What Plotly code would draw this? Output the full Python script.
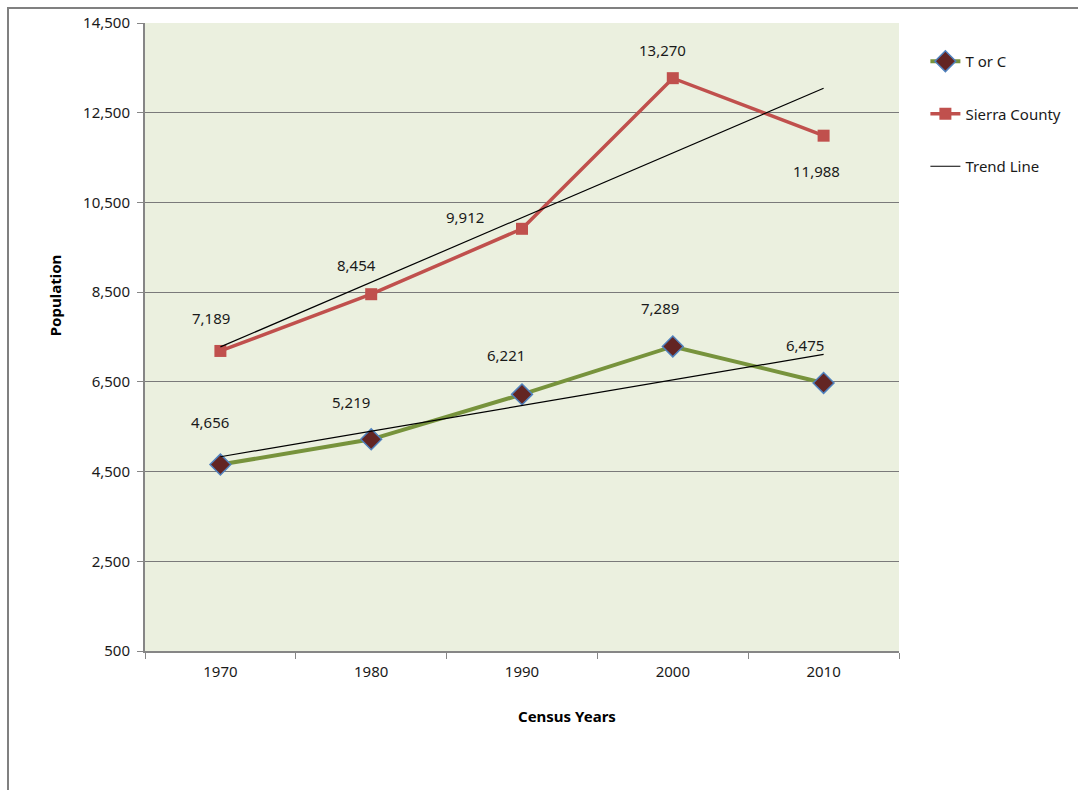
import plotly.graph_objects as go
import numpy as np

# Census data
years = ["1970", "1980", "1990", "2000", "2010"]
t_or_c = [4656, 5219, 6221, 7289, 6475]
sierra_county = [7189, 8454, 9912, 13270, 11988]

y_ticks = [500, 2500, 4500, 6500, 8500, 10500, 12500, 14500]

# label offsets in pixels (dx, dy) relative to each point
tc_label_offsets = [(-10, 43), (-20, 37), (-16, 39), (-13, 38), (-19, 38)]
sc_label_offsets = [(-9, 33), (-15, 29), (-57, 12), (-10, 28), (-7, -35)]

FONT = "Noto Sans, Lato, sans-serif"


def trend(values):
    x = np.arange(len(values))
    slope, intercept = np.polyfit(x, values, 1)
    return list(intercept + slope * x)


fig = go.Figure()

fig.add_trace(go.Scatter(
    x=years, y=t_or_c, name="T or C", mode="lines+markers",
    line=dict(color="#77933C", width=4),
    marker=dict(symbol="diamond", size=16, color="#632523",
                line=dict(color="#4F81BD", width=1.5)),
    legendgroup="a",
))
fig.add_trace(go.Scatter(
    x=years, y=sierra_county, name="Sierra County", mode="lines+markers",
    line=dict(color="#C0504D", width=3.5),
    marker=dict(symbol="square", size=12, color="#C0504D"),
    legendgroup="b",
))
fig.add_trace(go.Scatter(
    x=years, y=trend(t_or_c), name="Trend Line", mode="lines",
    line=dict(color="black", width=1.2), legendgroup="c",
))
fig.add_trace(go.Scatter(
    x=years, y=trend(sierra_county), name="Trend Line", mode="lines",
    line=dict(color="black", width=1.2), legendgroup="c", showlegend=False,
))

# data labels (category axis: place by category index)
for series, offsets in ((t_or_c, tc_label_offsets), (sierra_county, sc_label_offsets)):
    for i, (v, (dx, dy)) in enumerate(zip(series, offsets)):
        fig.add_annotation(x=i, y=v, xref="x", yref="y", text=f"{v:,}",
                           showarrow=False, xshift=dx, yshift=dy,
                           font=dict(family=FONT, size=15, color="#1a1a1a"))

# axis titles
fig.add_annotation(x=-0.119, y=0.567, xref="paper", yref="paper",
                   xanchor="center", yanchor="middle",
                   text="<b>Population</b>", textangle=-90, showarrow=False,
                   font=dict(family=FONT, size=15, color="black"))
fig.add_annotation(x=0.56, y=-0.104, xref="paper", yref="paper",
                   xanchor="center", yanchor="middle",
                   text="<b>Census Years</b>", showarrow=False,
                   font=dict(family=FONT, size=15, color="black"))

# outer chart frame
fig.add_shape(type="rect", xref="paper", yref="paper",
              x0=-0.1817, x1=1.4, y0=-0.4, y1=1.0239,
              line=dict(color="#808080", width=2), fillcolor="rgba(0,0,0,0)",
              layer="below")

fig.update_layout(
    width=1078, height=790,
    margin=dict(l=145, r=179, t=23, b=139),
    paper_bgcolor="white",
    plot_bgcolor="#EBF0DF",
    font=dict(family=FONT, size=15, color="#1a1a1a"),
    showlegend=True,
    legend=dict(x=1.035, y=0.965, xanchor="left", yanchor="top",
                bgcolor="rgba(0,0,0,0)", tracegroupgap=30,
                font=dict(family=FONT, size=15, color="#1a1a1a"),
                itemwidth=30),
    xaxis=dict(
        type="category", range=[-0.5, 4.5],
        showline=True, linecolor="#868686", linewidth=2,
        ticks="outside", tickson="boundaries", ticklen=6, tickcolor="#868686",
        showgrid=False, tickfont=dict(size=15), ticklabelstandoff=6,
    ),
    yaxis=dict(
        range=[500, 14500], tickvals=y_ticks, tickformat=",",
        showline=True, linecolor="#868686", linewidth=2,
        ticks="outside", ticklen=6, tickcolor="#868686",
        showgrid=True, gridcolor="#7a7a7a", gridwidth=1,
        zeroline=False, tickfont=dict(size=15), ticklabelstandoff=4,
    ),
)

fig.write_html("out.html")
